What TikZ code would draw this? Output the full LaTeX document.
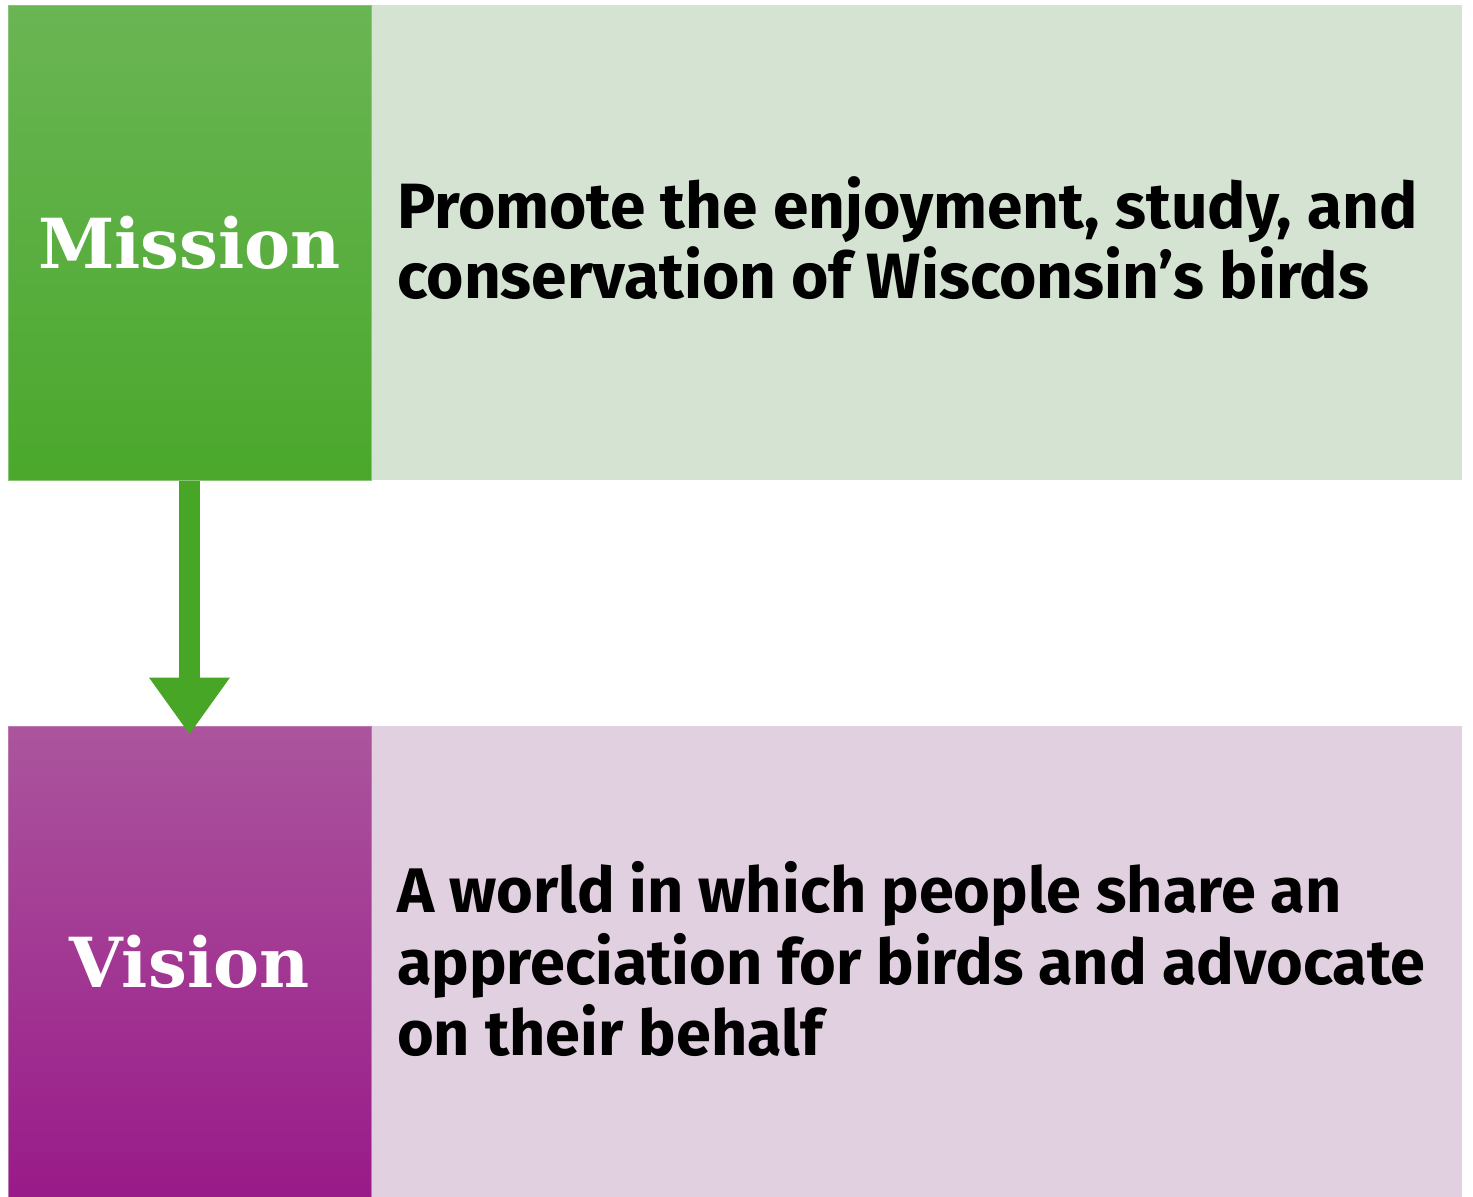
\documentclass[tikz,border=0pt]{standalone}
\usepackage{fontspec}
\usetikzlibrary{arrows.meta}
\setmainfont{Fira Sans}
\newfontfamily\slabfont{DejaVu Serif}
\definecolor{gtop}{HTML}{6AB554}
\definecolor{gbot}{HTML}{4AA82C}
\definecolor{glight}{HTML}{D4E3D2}
\definecolor{ptop}{HTML}{AB559D}
\definecolor{pbot}{HTML}{991A89}
\definecolor{plight}{HTML}{E1D0E0}
\definecolor{garrow}{HTML}{47A626}
\tikzset{
  labelbox/.style={minimum width=363pt, minimum height=475pt, inner sep=0pt, text=white,
    font=\slabfont\bfseries\fontsize{69}{80}\selectfont},
  bandbox/.style={minimum width=1091pt, minimum height=475pt, inner sep=0pt},
  bodytext/.style={anchor=west, align=left, inner sep=0pt,
    font=\bfseries\fontsize{63}{71.5}\selectfont},
}
\begin{document}
\begin{tikzpicture}[x=1pt,y=-1pt]
\useasboundingbox (0,0) rectangle (1473,1197);
\fill[white] (0,0) rectangle (1473,1197);
% mission row
\node[bandbox, fill=glight] (mband) at (916.5,242.5) {};
\node[labelbox, top color=gtop, bottom color=gbot, draw=gtop!80!white, line width=1pt] (mission) at (189.5,242.5) {Mission};
\node[bodytext, font=\bfseries\fontsize{64}{70}\selectfont] (mtext) at (397,238) {Promote the enjoyment, study, and\\conservation of Wisconsin’s birds};
% vision row
\node[bandbox, fill=plight, minimum height=471pt] (vband) at (916.5,961.5) {};
\node[labelbox, minimum height=471pt, top color=ptop, bottom color=pbot, draw=ptop!80!white, line width=1pt] (vision) at (189.5,961.5) {Vision};
\node[bodytext] (vtext) at (397,959) {A world in which people share an\\appreciation for birds and advocate\\on their behalf};
% arrow
\draw[garrow, line width=21pt, shorten >=-9pt,
  -{Triangle[width=77pt,length=57pt]}] (mission.south) -- (vision.north);
\end{tikzpicture}
\end{document}
